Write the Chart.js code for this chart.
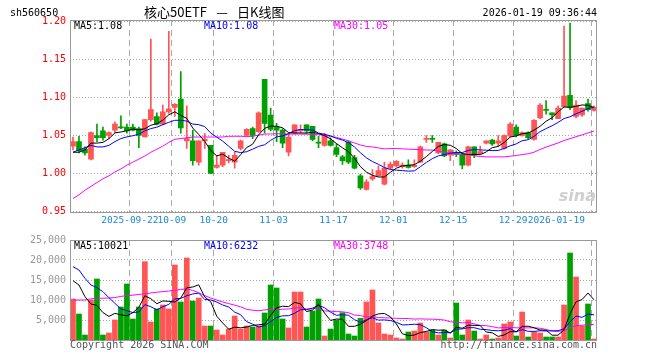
<!DOCTYPE html>
<html>
<head>
<meta charset="utf-8">
<script src="https://cdn.jsdelivr.net/npm/chart.js@4.4.1/dist/chart.umd.min.js"></script>
<style>
  html, body { margin: 0; padding: 0; background: #fff; }
  #wrap { position: relative; width: 660px; height: 360px; }
  canvas { position: absolute; left: 0; }
  #kline { top: 0; }
  #vol { top: 228px; }
</style>
</head>
<body>
<div id="wrap">
  <canvas id="kline" width="660" height="228"></canvas>
  <canvas id="vol" width="660" height="132"></canvas>
</div>
<script>
// trading days shown on the daily K chart
const dates = [
  '2025-09-08','2025-09-09','2025-09-10','2025-09-11','2025-09-12',
  '2025-09-15','2025-09-16','2025-09-17','2025-09-18','2025-09-19',
  '2025-09-22','2025-09-23','2025-09-24','2025-09-25','2025-09-26',
  '2025-09-29','2025-09-30','2025-10-09','2025-10-10',
  '2025-10-13','2025-10-14','2025-10-15','2025-10-16','2025-10-17',
  '2025-10-20','2025-10-21','2025-10-22','2025-10-23','2025-10-24',
  '2025-10-27','2025-10-28','2025-10-29','2025-10-30','2025-10-31',
  '2025-11-03','2025-11-04','2025-11-05','2025-11-06','2025-11-07',
  '2025-11-10','2025-11-11','2025-11-12','2025-11-13','2025-11-14',
  '2025-11-17','2025-11-18','2025-11-19','2025-11-20','2025-11-21',
  '2025-11-24','2025-11-25','2025-11-26','2025-11-27','2025-11-28',
  '2025-12-01','2025-12-02','2025-12-03','2025-12-04','2025-12-05',
  '2025-12-08','2025-12-09','2025-12-10','2025-12-11','2025-12-12',
  '2025-12-15','2025-12-16','2025-12-17','2025-12-18','2025-12-19',
  '2025-12-22','2025-12-23','2025-12-24','2025-12-25','2025-12-26',
  '2025-12-29','2025-12-30','2025-12-31',
  '2026-01-05','2026-01-06','2026-01-07','2026-01-08','2026-01-09',
  '2026-01-12','2026-01-13','2026-01-14','2026-01-15','2026-01-16',
  '2026-01-19'
];

const open = [1.036,1.042,1.032,1.019,1.050,1.056,1.050,1.057,1.061,1.061,
  1.061,1.059,1.048,1.071,1.075,1.065,1.081,1.087,1.098,1.043,
  1.043,1.015,1.043,1.037,1.008,1.011,1.017,1.015,1.033,1.050,
  1.059,1.055,1.124,1.077,1.061,1.057,1.028,1.053,1.056,1.064,
  1.062,1.041,1.037,1.043,1.034,1.022,1.041,1.021,0.997,0.979,
  0.993,0.997,0.986,1.007,1.010,1.009,1.011,1.009,1.015,1.045,
  1.046,1.027,1.039,1.024,1.028,1.026,1.011,1.035,1.026,1.040,
  1.044,1.040,1.033,1.049,1.061,1.050,1.054,1.045,1.073,1.084,
  1.080,1.072,1.088,1.103,1.075,1.077,1.092,1.083];
const high = [1.048,1.049,1.035,1.055,1.065,1.061,1.055,1.068,1.076,1.065,
  1.065,1.061,1.071,1.177,1.080,1.090,1.187,1.092,1.134,1.089,
  1.057,1.043,1.053,1.037,1.024,1.028,1.024,1.028,1.044,1.059,
  1.061,1.081,1.124,1.086,1.066,1.059,1.053,1.064,1.064,1.064,
  1.062,1.049,1.053,1.047,1.039,1.024,1.043,1.024,0.999,0.992,
  1.005,1.010,1.015,1.015,1.017,1.014,1.018,1.018,1.036,1.050,
  1.050,1.041,1.040,1.031,1.030,1.027,1.036,1.035,1.036,1.043,
  1.045,1.050,1.051,1.067,1.064,1.055,1.055,1.071,1.092,1.096,
  1.080,1.089,1.194,1.198,1.096,1.086,1.098,1.089];
const low = [1.031,1.027,1.024,1.018,1.042,1.044,1.046,1.054,1.059,1.053,
  1.056,1.034,1.048,1.069,1.064,1.064,1.079,1.075,1.053,1.033,
  1.011,1.011,1.033,1.000,1.007,1.009,1.014,1.007,1.031,1.050,
  1.046,1.054,1.053,1.056,1.042,1.034,1.023,1.052,1.053,1.053,
  1.043,1.034,1.036,1.036,1.022,1.012,1.013,1.006,0.979,0.978,
  0.991,0.996,0.985,1.005,1.009,1.007,1.007,1.008,1.015,1.041,
  1.041,1.026,1.022,1.017,1.022,1.006,1.010,1.021,1.025,1.039,
  1.037,1.036,1.032,1.048,1.048,1.049,1.046,1.044,1.072,1.078,
  1.071,1.072,1.087,1.084,1.073,1.075,1.082,1.082];
const close = [1.042,1.030,1.027,1.054,1.047,1.047,1.054,1.065,1.060,1.056,
  1.057,1.050,1.071,1.084,1.065,1.081,1.085,1.091,1.060,1.046,
  1.017,1.043,1.045,1.000,1.011,1.028,1.018,1.024,1.043,1.058,
  1.050,1.080,1.066,1.058,1.057,1.040,1.048,1.064,1.058,1.056,
  1.045,1.040,1.050,1.037,1.025,1.017,1.015,1.007,0.981,0.989,
  0.996,1.004,1.007,1.012,1.016,1.011,1.008,1.011,1.035,1.046,
  1.045,1.041,1.023,1.031,1.025,1.011,1.035,1.024,1.029,1.043,
  1.039,1.043,1.050,1.065,1.050,1.054,1.047,1.070,1.090,1.083,
  1.077,1.086,1.102,1.087,1.090,1.086,1.084,1.087];
const volume = [10250,6500,1250,10000,15250,1250,1750,5000,8250,14000,
  5250,8250,19580,4500,7750,8750,7750,18750,9500,20500,
  9750,10500,3500,3500,2500,1250,2750,6000,2750,3500,
  3250,3500,6750,13750,13000,5250,3000,12000,12000,3250,
  7250,10250,1000,2750,5000,6830,1500,1000,5420,9500,
  12500,4250,1500,1250,500,250,2000,2250,4250,2000,
  2500,1250,2500,500,9250,1250,5000,2250,250,1250,
  250,500,4000,4500,1000,7000,750,2000,1750,750,
  750,750,8750,21750,15750,3500,9000,250];

// moving averages before enough days are on screen
const ma5Head = [1.028,1.028,1.031,1.040];
const ma10Head = [1.028,1.031,1.034,1.037,1.035,1.035,1.037,1.042,1.046];
const ma30Head = [0.967,0.972,0.978,0.983,0.988,0.993,0.997,1.002,1.006,1.011,
  1.015,1.019,1.023,1.028,1.032,1.036,1.041,1.045,1.046,1.047,
  1.048,1.048,1.048,1.048,1.048,1.048,1.049,1.049,1.049];
const vma5Head = [14830,13750,10830,9000];
const vma10Head = [18330,17500,15420,13750,13080,12080,10580,9170,7750];
const vma30Head = [10000,10000,10000,10300,10420,10450,10500,10600,10900,11100,
  11200,11400,11550,11750,11950,12100,12250,12400,12650,12750,
  12400,11800,11100,10500,10000,9500,9100,8700,8300];

const priceTicks = [0.95,1.00,1.05,1.10,1.15,1.20];
const volTicks = [5000,10000,15000,20000,25000];
const tickDates = ['2025-09-22','2025-10-09','2025-10-20','2025-11-03','2025-11-17',
  '2025-12-01','2025-12-15','2025-12-29','2026-01-19'];
const tickLabels = ['2025-09-22','10-09','10-20','11-03','11-17','12-01','12-15','12-29','2026-01-19'];

const UP = '#ff5555', DOWN = '#00a000';
const MONO = '"DejaVu Sans Mono", monospace';
const CJK = '13px "Noto Sans CJK SC"';

function movingAvg(values, n, head) {
  return values.map((v, i) => {
    if (i < head.length) return head[i];
    let s = 0;
    for (let k = i - n + 1; k <= i; k++) s += values[k];
    return s / n;
  });
}

const markIdx = new Set(tickDates.map(d => dates.indexOf(d)));
const colors = dates.map((d, i) => close[i] >= open[i] ? UP : DOWN);

function maLine(label, data, color) {
  return { type: 'line', label: label, data: data, borderColor: color, borderWidth: 1,
    pointRadius: 0, tension: 0, fill: false, order: 0 };
}

function xScale() {
  return {
    offset: true,
    grid: { offset: true, drawTicks: false, color: '#aaa',
      lineWidth: ctx => markIdx.has(ctx.index) ? 1 : 0 },
    border: { display: false, dash: [6, 4] },
    ticks: { display: false, autoSkip: false },
    afterFit: s => { s.height = 0; }
  };
}

// frame round the plot and the little texts of the sina chart
function frame(chart) {
  const a = chart.chartArea, ctx = chart.ctx;
  ctx.save();
  ctx.strokeStyle = '#999';
  ctx.lineWidth = 1;
  ctx.strokeRect(Math.round(a.left) + 0.5, Math.round(a.top) + 0.5,
    Math.round(a.right - a.left) - 1, Math.round(a.bottom - a.top));
  ctx.restore();
}

function text(ctx, str, x, y, color, font, align) {
  ctx.font = font;
  ctx.fillStyle = color;
  ctx.textAlign = align || 'left';
  ctx.textBaseline = 'middle';
  ctx.fillText(str, x, y);
}

const klineText = {
  id: 'klineText',
  afterDraw(chart) {
    const ctx = chart.ctx, a = chart.chartArea, xs = chart.scales.x;
    frame(chart);
    ctx.save();
    text(ctx, 'sh560650', 10, 13, '#000', '10px ' + MONO);
    text(ctx, '核心50ETF', 207, 12, '#000', CJK, 'right');
    text(ctx, '—', 222, 12, '#000', CJK, 'center');
    text(ctx, '日K线图', 237, 12, '#000', CJK, 'left');
    text(ctx, '2026-01-19 09:36:44', a.right, 13, '#000', '10px ' + MONO, 'right');
    text(ctx, 'MA5:1.08', 74, 26.5, '#000', '10px ' + MONO);
    text(ctx, 'MA10:1.08', 204, 26.5, '#0000ff', '10px ' + MONO);
    text(ctx, 'MA30:1.05', 334, 26.5, '#ff00ff', '10px ' + MONO);
    text(ctx, 'sina', a.right - 1, 197, '#cfcfcf', 'italic bold 16px "DejaVu Sans"', 'right');
    // date labels sit on the dashed lines
    const half = (xs.getPixelForValue(1) - xs.getPixelForValue(0)) / 2;
    ctx.font = '9.5px ' + MONO;
    tickDates.forEach((d, k) => {
      const i = dates.indexOf(d);
      const w = ctx.measureText(tickLabels[k]).width;
      const x = Math.min(xs.getPixelForValue(i) - half, a.right - 12 - w / 2);
      text(ctx, tickLabels[k], x, 221, '#1f86d0', '9.5px ' + MONO, 'center');
    });
    ctx.restore();
  }
};

const volText = {
  id: 'volText',
  afterDraw(chart) {
    const ctx = chart.ctx, a = chart.chartArea;
    frame(chart);
    ctx.save();
    text(ctx, 'MA5:10021', 74, 18.5, '#000', '10px ' + MONO);
    text(ctx, 'MA10:6232', 204, 18.5, '#0000ff', '10px ' + MONO);
    text(ctx, 'MA30:3748', 334, 18.5, '#ff00ff', '10px ' + MONO);
    text(ctx, 'Copyright 2026 SINA.COM', 70, 117.5, '#555', '10px ' + MONO);
    text(ctx, 'http://finance.sina.com.cn', a.right, 117.5, '#555', '10px ' + MONO, 'right');
    ctx.restore();
  }
};

new Chart(document.getElementById('kline'), {
  type: 'bar',
  data: {
    labels: dates,
    datasets: [
      maLine('MA5', movingAvg(close, 5, ma5Head), '#000000'),
      maLine('MA10', movingAvg(close, 10, ma10Head), '#0000ff'),
      maLine('MA30', movingAvg(close, 30, ma30Head), '#ff00ff'),
      {
        label: 'body',
        data: dates.map((d, i) => [open[i], close[i]]),
        backgroundColor: colors,
        barThickness: 5, minBarLength: 1, grouped: false, order: 1
      },
      {
        label: 'wick',
        data: dates.map((d, i) => [low[i], high[i]]),
        backgroundColor: colors,
        barThickness: 1, grouped: false, order: 2
      }
    ]
  },
  options: {
    responsive: false,
    animation: false,
    layout: { padding: { left: 0, right: 63, top: 20, bottom: 16.5 } },
    plugins: { legend: { display: false }, tooltip: { enabled: false } },
    scales: {
      x: xScale(),
      y: {
        min: 0.95, max: 1.202,
        afterBuildTicks: s => { s.ticks = priceTicks.map(v => ({ value: v })); },
        afterFit: s => { s.width = 70; },
        grid: { color: '#aaa', drawTicks: false },
        border: { display: false, dash: [1, 2] },
        ticks: { color: '#ff0000', padding: 4, font: { family: 'DejaVu Sans Mono', size: 10 },
          callback: v => v.toFixed(2) }
      }
    }
  },
  plugins: [klineText]
});

new Chart(document.getElementById('vol'), {
  type: 'bar',
  data: {
    labels: dates,
    datasets: [
      maLine('MA5', movingAvg(volume, 5, vma5Head), '#000000'),
      maLine('MA10', movingAvg(volume, 10, vma10Head), '#0000ff'),
      maLine('MA30', movingAvg(volume, 30, vma30Head), '#ff00ff'),
      {
        label: 'volume',
        data: volume,
        backgroundColor: colors,
        barThickness: 5, grouped: false, order: 1
      }
    ]
  },
  options: {
    responsive: false,
    animation: false,
    layout: { padding: { left: 0, right: 63, top: 12, bottom: 20 } },
    plugins: { legend: { display: false }, tooltip: { enabled: false } },
    scales: {
      x: xScale(),
      y: {
        min: 0, max: 25000,
        afterBuildTicks: s => { s.ticks = volTicks.map(v => ({ value: v })); },
        afterFit: s => { s.width = 70; },
        grid: { color: '#aaa', drawTicks: false },
        border: { display: false, dash: [1, 2] },
        ticks: { color: '#999', padding: 4, font: { family: 'DejaVu Sans Mono', size: 10 } }
      }
    }
  },
  plugins: [volText]
});
</script>
</body>
</html>
